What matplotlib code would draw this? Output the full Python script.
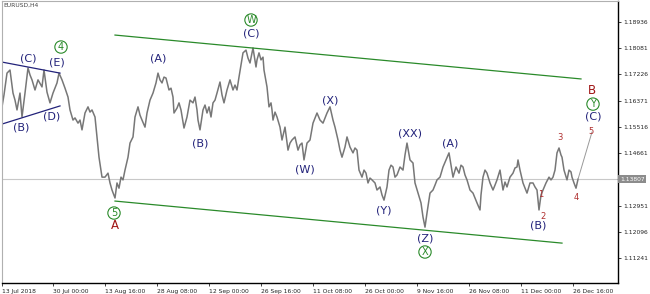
import numpy as np
import matplotlib
matplotlib.use("Agg")
import matplotlib.pyplot as plt
import matplotlib.transforms as mtransforms

# EURUSD H4 close path (bar position, price)
bar_x = [2, 4, 7, 10, 13, 15, 17, 20, 22, 25, 28, 30, 32, 35, 38, 42, 44, 47, 50, 53,
         57, 59, 62, 65, 68, 70, 73, 75, 78, 80, 82, 85, 88, 90, 92, 95, 97, 99, 102, 105,
         108, 110, 112, 115, 117, 119, 121, 123, 125, 128,
         130, 133, 135, 138, 140, 142, 145, 147, 150, 153, 156, 158, 160, 162, 164, 166, 169, 171, 173, 174,
         177, 179, 181, 184, 187, 190, 193, 195, 197, 198, 200, 203, 205, 207, 209, 211, 213, 215, 217, 220,
         222, 224, 227, 230, 233, 235, 237, 239, 241, 243, 246, 248, 250, 253, 256, 257, 259, 261, 263, 264,
         267, 269,
         271, 272, 273, 275, 277, 280, 282, 285, 288, 290, 292, 295, 298, 300, 302, 304, 307, 310, 313, 315,
         317, 320, 323, 325, 327, 330, 333, 335, 338, 340, 342, 345, 347, 350, 353, 355, 357, 359, 362, 364,
         366, 368, 370, 372, 375, 377, 380, 382, 384, 387, 389, 391, 393, 395, 397, 400, 403, 405, 407, 410,
         413, 415, 418, 421, 423, 425, 427,
         430, 433, 435, 437, 440, 443, 446, 449, 451, 453, 456, 459, 461, 463, 465, 467, 470, 473, 475, 477,
         480, 481, 483, 485, 487, 490, 493, 495, 497, 500, 503, 505, 507, 510, 513, 515, 517, 518, 520, 523,
         525, 527, 530, 533, 535, 537, 539, 541, 543, 546, 549, 551, 553, 555, 557, 559, 561, 562, 564, 567,
         569, 571, 572, 574, 576, 578]
close = [1.1617, 1.1656, 1.1727, 1.1737, 1.1662, 1.1639, 1.1607, 1.1662, 1.1584, 1.1662,
         1.1744, 1.1721, 1.1705, 1.1672, 1.1705, 1.1682, 1.1737, 1.1665, 1.1630, 1.1662,
         1.1695, 1.1727, 1.1705, 1.1678, 1.1649, 1.1607, 1.1574, 1.1581, 1.1564, 1.1574,
         1.1542, 1.1597, 1.1617, 1.1600, 1.1607, 1.1584, 1.1519, 1.1453, 1.1388, 1.1388,
         1.1401, 1.1369, 1.1346, 1.1320, 1.1369, 1.1352, 1.1388, 1.1379, 1.1411, 1.1453,
         1.1499, 1.1519, 1.1584, 1.1617, 1.1590, 1.1574, 1.1551, 1.1597, 1.1639, 1.1662,
         1.1695, 1.1727, 1.1705, 1.1695, 1.1714, 1.1711, 1.1672, 1.1678, 1.1649, 1.1597,
         1.1613, 1.1630, 1.1607, 1.1548, 1.1584, 1.1639, 1.1630, 1.1649, 1.1607, 1.1574,
         1.1542, 1.1607, 1.1623, 1.1597, 1.1617, 1.1584, 1.1630, 1.1639, 1.1662, 1.1698,
         1.1656, 1.1630, 1.1672, 1.1705, 1.1672, 1.1688, 1.1672, 1.1714, 1.1753, 1.1793,
         1.1802, 1.1776, 1.1760, 1.1809, 1.1747, 1.1770, 1.1793, 1.1770, 1.1779, 1.1737,
         1.1682, 1.1617,
         1.1630, 1.1607, 1.1574, 1.1600, 1.1584, 1.1551, 1.1509, 1.1551, 1.1476, 1.1499,
         1.1509, 1.1519, 1.1476, 1.1493, 1.1499, 1.1444, 1.1499, 1.1509, 1.1564, 1.1581,
         1.1597, 1.1574, 1.1564, 1.1581, 1.1597, 1.1617, 1.1574, 1.1551, 1.1509, 1.1476,
         1.1453, 1.1486, 1.1519, 1.1486, 1.1467, 1.1483, 1.1476, 1.1411, 1.1388, 1.1411,
         1.1401, 1.1369, 1.1385, 1.1379, 1.1369, 1.1346, 1.1356, 1.1330, 1.1313, 1.1356,
         1.1411, 1.1427, 1.1421, 1.1388, 1.1395, 1.1421, 1.1411, 1.1460, 1.1499, 1.1444,
         1.1434, 1.1369, 1.1336, 1.1304, 1.1258, 1.1225, 1.1271,
         1.1336, 1.1346, 1.1362, 1.1379, 1.1388, 1.1421, 1.1444, 1.1467, 1.1427, 1.1388,
         1.1421, 1.1401, 1.1427, 1.1421, 1.1395, 1.1379, 1.1346, 1.1336, 1.1320, 1.1304,
         1.1281, 1.1330, 1.1388, 1.1411, 1.1401, 1.1369, 1.1346, 1.1362, 1.1379, 1.1411,
         1.1346, 1.1372, 1.1356, 1.1388, 1.1401, 1.1418, 1.1421, 1.1444, 1.1411, 1.1369,
         1.1352, 1.1336, 1.1369, 1.1369, 1.1356, 1.1346, 1.1281, 1.1330, 1.1346, 1.1369,
         1.1388, 1.1379, 1.1388, 1.1411, 1.1467, 1.1483, 1.1460, 1.1453, 1.1411, 1.1379,
         1.1411, 1.1405, 1.1388, 1.1369, 1.1352, 1.1381]

last_price = 1.13807

# projected wave 5
proj_x = [578, 592]
proj_y = [1.1381, 1.1535]

# channel and triangle lines
upper_x, upper_y = [115, 581], [1.1851, 1.1708]
lower_x, lower_y = [115, 562], [1.1310, 1.1173]
tri_up_x, tri_up_y = [2, 60], [1.1763, 1.1727]
tri_lo_x, tri_lo_y = [2, 60], [1.1561, 1.1620]

y_ticks = [1.18936, 1.18081, 1.17226, 1.16371, 1.15516, 1.14661, 1.12951, 1.12096, 1.11241]
x_ticks = [2, 53, 105, 157, 209, 261, 313, 365, 417, 469, 521, 573]
x_labels = ['13 Jul 2018', '30 Jul 00:00', '13 Aug 16:00', '28 Aug 08:00', '12 Sep 00:00',
            '26 Sep 16:00', '11 Oct 08:00', '26 Oct 00:00', '9 Nov 16:00', '26 Nov 08:00',
            '11 Dec 00:00', '26 Dec 16:00']

navy = '#22227a'
green = '#2a8a2a'
red = '#a01515'

# wave labels: text, x, y
blue_labels = [('(C)', 28, 1.1776), ('(E)', 57, 1.1760), ('(B)', 21, 1.1551), ('(D)', 52, 1.1584),
               ('(A)', 158, 1.1776), ('(B)', 200, 1.1496), ('(C)', 251, 1.1855),
               ('(X)', 330, 1.1639), ('(W)', 305, 1.1414), ('(Y)', 384, 1.1278),
               ('(XX)', 410, 1.1529), ('(Z)', 425, 1.1189), ('(A)', 450, 1.1496),
               ('(B)', 538, 1.1229), ('(C)', 593, 1.1587)]
circle_labels = [('4', 61, 1.1812), ('W', 251, 1.1900), ('5', 114, 1.1271),
                 ('X', 425, 1.1144), ('Y', 593, 1.1626)]
red_big = [('A', 115, 1.1232), ('B', 592, 1.1669)]
red_small = [('1', 541, 1.1333), ('2', 543, 1.1261), ('3', 560, 1.1516),
             ('4', 576, 1.1323), ('5', 591, 1.1538)]

fig = plt.figure(figsize=(6.5, 2.94), dpi=100)
ax = fig.add_axes([2 / 650, 11 / 294, 616 / 650, 282 / 294])

ax.axhline(last_price, color='#c8c8c8', lw=0.8, zorder=1)
ax.plot(bar_x, close, color='#777777', lw=1.1, zorder=2)
ax.plot(proj_x, proj_y, color='#999999', lw=0.7, zorder=2)
ax.plot(upper_x, upper_y, color=green, lw=0.9)
ax.plot(lower_x, lower_y, color=green, lw=0.9)
ax.plot(tri_up_x, tri_up_y, color=navy, lw=0.9)
ax.plot(tri_lo_x, tri_lo_y, color=navy, lw=0.9)

for t, x, y in blue_labels:
    ax.text(x, y, t, color=navy, fontsize=8, ha='center', va='center')
for t, x, y in circle_labels:
    ax.text(x, y, t, color=green, fontsize=7, ha='center', va='center',
            bbox=dict(boxstyle='circle,pad=0.12', fc='none', ec=green, lw=0.8))
for t, x, y in red_big:
    ax.text(x, y, t, color=red, fontsize=8.5, ha='center', va='center')
for t, x, y in red_small:
    ax.text(x, y, t, color='#b03030', fontsize=6, ha='center', va='center')

ax.text(0.003, 0.995, 'EURUSD,H4', transform=ax.transAxes, fontsize=4.3,
        color='#444444', ha='left', va='top')

ax.set_xlim(2, 618)
ax.set_ylim(1.1043, 1.1962)

ax.yaxis.tick_right()
ax.set_yticks(y_ticks)
ax.set_yticklabels(['%.5f' % v for v in y_ticks])
ax.set_xticks(x_ticks)
ax.set_xticklabels(x_labels, ha='left')
ax.tick_params(axis='both', labelsize=4.3, length=2.5, width=0.6, pad=1.5, colors='#222222')

trans = mtransforms.blended_transform_factory(ax.transAxes, ax.transData)
ax.text(1.003, last_price, '%.5f' % last_price, transform=trans, fontsize=4.3,
        color='white', ha='left', va='center',
        bbox=dict(boxstyle='square,pad=0.25', fc='#8c8c8c', ec='none'))

for side in ['left', 'top']:
    ax.spines[side].set_color('#b0b0b0')
    ax.spines[side].set_linewidth(0.8)
for side in ['right', 'bottom']:
    ax.spines[side].set_color('black')
    ax.spines[side].set_linewidth(1.0)

fig.savefig('out.png', dpi=100)
